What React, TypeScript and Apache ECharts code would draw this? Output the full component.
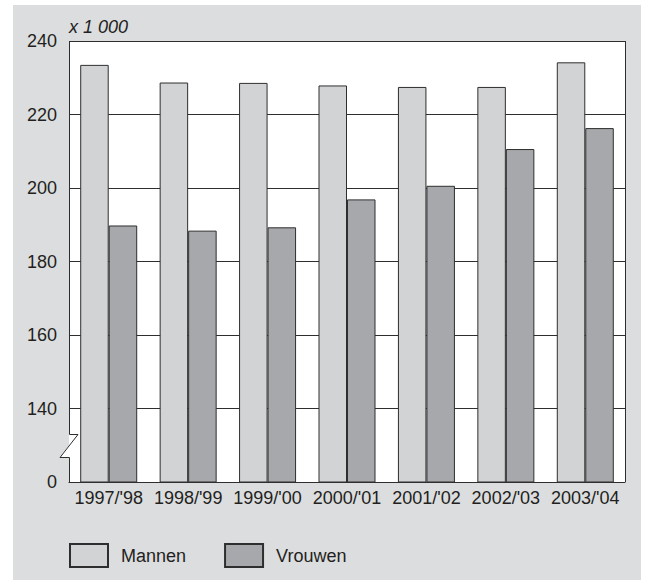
import React, { useEffect, useRef } from "react";
import * as echarts from "echarts";

const categories = ["1997/'98", "1998/'99", "1999/'00", "2000/'01", "2001/'02", "2002/'03", "2003/'04"];
const mannen = [233.5, 228.7, 228.6, 227.9, 227.5, 227.5, 234.2];
const vrouwen = [189.8, 188.4, 189.3, 196.9, 200.6, 210.6, 216.3];
const seriesNames = ["Mannen", "Vrouwen"];
const unitLabel = "x 1 000";
const yMin = 120;
const yMax = 240;
const yStep = 20;

const FONT = "'Liberation Sans', Arial, Helvetica, sans-serif";
const TEXT = "#231f20";
const LINE = "#2e2e2e";

export default function App() {
  const ref = useRef<HTMLDivElement>(null);
  useEffect(() => {
    document.body.style.margin = "0";
    const el = ref.current!;
    const chart = echarts.init(el, null, { renderer: "svg" });
    const gl = 69, gr = 20, gt = 41, gb = 98;
    const W = 645, H = 580;
    const left = gl, right = W - gr, top = gt, bottom = H - gb;
    const breakTop = bottom - 48;
    const breakBot = bottom - 25;
    chart.setOption({
      animation: false,
      backgroundColor: "#ffffff",
      grid: {
        left: gl, right: gr, top: gt, bottom: gb,
        show: true, backgroundColor: "#ffffff", borderWidth: 0,
      },
      xAxis: {
        type: "category",
        data: categories,
        axisLine: { show: true, lineStyle: { color: LINE, width: 1 } },
        axisTick: { show: false },
        axisLabel: { color: TEXT, fontFamily: FONT, fontSize: 18, margin: 7, interval: 0 },
      },
      yAxis: {
        type: "value",
        min: yMin,
        max: yMax,
        interval: yStep,
        axisLine: { show: false },
        axisTick: { show: false },
        axisLabel: {
          color: TEXT, fontFamily: FONT, fontSize: 18, margin: 12,
          formatter: (v: number) => (v === yMin ? "0" : String(v)),
        },
        splitLine: { show: true, lineStyle: { color: LINE, width: 1 } },
      },
      legend: {
        left: 69,
        top: 543,
        padding: 0,
        itemWidth: 38,
        itemHeight: 23,
        itemGap: 38,
        icon: "rect",
        data: seriesNames,
        textStyle: { color: TEXT, fontFamily: FONT, fontSize: 18, padding: [0, 0, 0, 8] },
      },
      series: [
        {
          name: seriesNames[0],
          type: "bar",
          data: mannen,
          barWidth: 28.5,
          barGap: "0%",
          itemStyle: { color: "#d2d3d5", borderColor: LINE, borderWidth: 1 },
        },
        {
          name: seriesNames[1],
          type: "bar",
          data: vrouwen,
          barWidth: 28.5,
          barGap: "0%",
          itemStyle: { color: "#a7a8ab", borderColor: LINE, borderWidth: 1 },
        },
      ],
      graphic: [
        {
          type: "rect",
          z: -10,
          shape: { x: 13, y: 5, width: 628, height: 575 },
          style: { fill: "#dcdddf" },
          silent: true,
        },
        {
          type: "polygon",
          z: 50,
          shape: { points: [[left, breakTop], [left + 8.7, breakTop], [left - 9, breakBot], [left, breakBot]] },
          style: { fill: "#ffffff", stroke: "none" },
          silent: true,
        },
        {
          type: "polyline",
          z: 51,
          shape: {
            points: [
              [left + 0.5, top], [left + 0.5, breakTop + 0.5], [left + 9, breakTop + 0.5],
              [left - 9, breakBot + 0.5], [left + 0.5, breakBot + 0.5], [left + 0.5, bottom + 0.5],
            ],
          },
          style: { stroke: LINE, lineWidth: 1, fill: "none" },
          silent: true,
        },
        {
          type: "line",
          z: 51,
          shape: { x1: right + 0.5, y1: top, x2: right + 0.5, y2: bottom },
          style: { stroke: LINE, lineWidth: 1 },
          silent: true,
        },
        {
          type: "text",
          z: 51,
          x: 69,
          y: 27,
          style: {
            text: unitLabel, fill: TEXT, font: `italic 18px ${FONT}`,
            align: "left", verticalAlign: "middle",
          },
          silent: true,
        },
      ],
    });
    return () => chart.dispose();
  }, []);
  return <div ref={ref} style={{ width: 645, height: 580 }} />;
}
